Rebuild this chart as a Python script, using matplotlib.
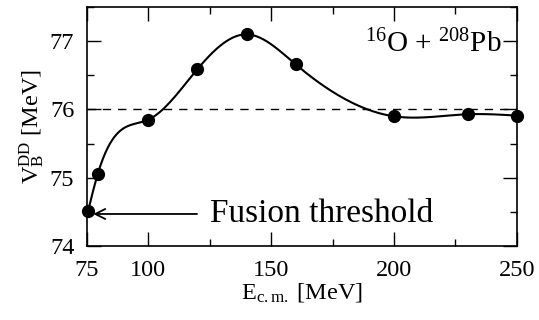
import numpy as np
import matplotlib
matplotlib.use("Agg")
import matplotlib.pyplot as plt

plt.rcParams['font.family'] = ['Liberation Serif', 'DejaVu Serif']
plt.rcParams['mathtext.fontset'] = 'custom'
plt.rcParams['mathtext.rm'] = 'Liberation Serif'
plt.rcParams['mathtext.it'] = 'Liberation Serif:italic'

# data
e_cm = [75.5, 79.5, 100, 120, 140, 160, 200, 230, 250]
vb_dd = [74.51, 75.06, 75.85, 76.59, 77.10, 76.66, 75.90, 75.93, 75.91]
x_ticks = [75, 100, 150, 200, 250]
y_ticks = [74, 75, 76, 77]
threshold_level = 76.0


def natural_spline(x, y, n=400):
    # natural cubic spline, just to draw the smooth line through the points
    x = np.asarray(x, float)
    y = np.asarray(y, float)
    m = len(x)
    h = np.diff(x)
    A = np.zeros((m, m))
    b = np.zeros(m)
    A[0, 0] = 1
    A[-1, -1] = 1
    for i in range(1, m - 1):
        A[i, i - 1] = h[i - 1]
        A[i, i] = 2 * (h[i - 1] + h[i])
        A[i, i + 1] = h[i]
        b[i] = 3 * ((y[i + 1] - y[i]) / h[i] - (y[i] - y[i - 1]) / h[i - 1])
    c = np.linalg.solve(A, b)
    xs = np.linspace(x[0], x[-1], n)
    idx = np.clip(np.searchsorted(x, xs) - 1, 0, m - 2)
    dx = xs - x[idx]
    hi = h[idx]
    bb = (y[idx + 1] - y[idx]) / hi - hi * (2 * c[idx] + c[idx + 1]) / 3
    dd = (c[idx + 1] - c[idx]) / (3 * hi)
    ys = y[idx] + bb * dx + c[idx] * dx ** 2 + dd * dx ** 3
    return xs, ys


fig = plt.figure(figsize=(5.39, 3.2), dpi=100)
ax = fig.add_axes([0.161, 0.231, 0.798, 0.747])

xs, ys = natural_spline(e_cm, vb_dd)
ax.plot(xs, ys, color='black', lw=1.5)
ax.plot(e_cm, vb_dd, 'o', color='black', ms=8.5, clip_on=False, zorder=3)
ax.axhline(threshold_level, color='black', lw=1, ls=(0, (6, 5)))

ax.annotate('', xy=(e_cm[0] + 1, vb_dd[0] - 0.04), xytext=(121, vb_dd[0] - 0.04),
            arrowprops=dict(arrowstyle='->', color='black', lw=1.3, mutation_scale=18))
ax.text(125, vb_dd[0] - 0.04, 'Fusion threshold', fontsize=24, va='center', ha='left')
ax.text(0.965, 0.905, r'$^{16}$O + $^{208}$Pb', transform=ax.transAxes,
        fontsize=21, ha='right', va='top')

ax.set_xlim(75, 250)
ax.set_ylim(74, 77.5)
ax.set_xticks(x_ticks)
ax.set_xticks([125, 175, 225], minor=True)
ax.set_yticks(y_ticks)
ax.set_yticks([74.5, 75.5, 76.5, 77.5], minor=True)
ax.tick_params(which='both', direction='in', top=True, right=True, labelsize=17.5, width=1)
ax.tick_params(which='major', length=10)
ax.tick_params(axis='x', which='major', pad=10)
ax.tick_params(axis='y', which='major', pad=9)
ax.tick_params(which='minor', length=5)
for s in ax.spines.values():
    s.set_linewidth(1.2)

ax.set_xlabel(r'E$_{\mathrm{c.m.}}$ [MeV]', fontsize=17.5, labelpad=0)
ax.set_ylabel(r'V$_{\mathrm{B}}^{\mathrm{DD}}$ [MeV]', fontsize=17.5, labelpad=2)

fig.savefig('out.png', dpi=100)
